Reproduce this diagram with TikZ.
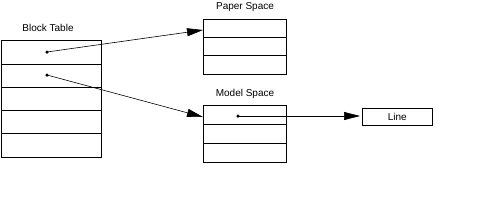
\documentclass[tikz,border=0pt]{standalone}
\usepackage{fontspec}
\setmainfont{Liberation Sans}
\usetikzlibrary{arrows.meta}
\begin{document}
\begin{tikzpicture}[x=1pt,y=-1pt,
  box/.style={draw=black,line width=0.7pt},
  lbl/.style={font=\fontsize{10}{11}\selectfont,inner sep=0pt},
  ptr/.style={line width=0.6pt,-{Triangle[length=16pt,width=8pt]}},
  dotc/.style={circle,fill=black,inner sep=0pt,minimum size=3.5pt}]
\useasboundingbox (0,0) rectangle (490,207);
% Block Table
\node[lbl] (btt) at (48,28) {Block Table};
\draw[box] (1,40) rectangle (101,157);
\foreach \y in {64,87,110,133} \draw[box] (1,\y) -- (101,\y);
\node[dotc] (d1) at (47,52) {};
\node[dotc] (d2) at (47,75) {};
% Paper Space
\node[lbl] (pst) at (245,7) {Paper Space};
\node[box,minimum width=83pt,minimum height=18pt,inner sep=0pt,anchor=north west] (ps1) at (203,19) {};
\draw[box] (203,37) rectangle (286,74);
\draw[box] (203,55) -- (286,55);
% Model Space
\node[lbl] (mst) at (245,94) {Model Space};
\node[box,minimum width=83pt,minimum height=19pt,inner sep=0pt,anchor=north west] (ms1) at (203,105) {};
\draw[box] (203,124) rectangle (286,162);
\draw[box] (203,143) -- (286,143);
\node[dotc] (d3) at (238,116) {};
% Line
\node[box,lbl,minimum width=70pt,minimum height=17pt,anchor=north west] (line) at (362,108) {Line};
% connectors
\coordinate (pa) at (203,30);
\coordinate (ma) at (203,117);
\draw[ptr] (d1.center) -- (pa);
\draw[ptr] (d2.center) -- (ma);
\draw[ptr,shorten >=2pt] (d3.center) -- (line.west|-d3);
\end{tikzpicture}
\end{document}
